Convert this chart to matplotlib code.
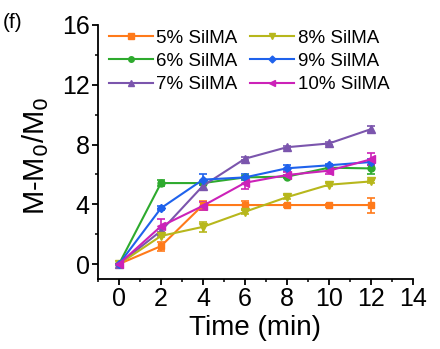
import numpy as np
import matplotlib.pyplot as plt
from matplotlib.lines import Line2D
from matplotlib.ticker import MultipleLocator

plt.rcParams['font.family'] = ['Liberation Sans', 'DejaVu Sans']

# Swelling ratio over time for each SilMA concentration
time = [0, 2, 4, 6, 8, 10, 12]
labels = ['5% SilMA', '6% SilMA', '7% SilMA', '8% SilMA', '9% SilMA', '10% SilMA']
s5 = [0, 1.2, 3.95, 3.95, 3.95, 3.95, 3.95]
s6 = [0, 5.42, 5.42, 5.8, 5.85, 6.45, 6.4]
s7 = [0, 2.22, 5.24, 7.05, 7.82, 8.07, 9.03]
s8 = [0, 1.88, 2.49, 3.5, 4.48, 5.31, 5.53]
s9 = [0, 3.74, 5.65, 5.8, 6.41, 6.61, 6.83]
s10 = [0, 2.53, 3.9, 5.44, 5.96, 6.25, 7.01]
e5 = [0, 0.3, 0.3, 0.3, 0.1, 0.1, 0.5]
e6 = [0, 0.2, 0.1, 0.1, 0.1, 0.2, 0.4]
e7 = [0, 0.1, 0.2, 0.1, 0.1, 0.1, 0.2]
e8 = [0, 0.1, 0.35, 0.15, 0.15, 0.1, 0.1]
e9 = [0, 0.15, 0.35, 0.2, 0.2, 0.1, 0.2]
e10 = [0, 0.5, 0.25, 0.4, 0.2, 0.2, 0.4]

series = [s5, s6, s7, s8, s9, s10]
errors = [e5, e6, e7, e8, e9, e10]
colors = ['#FF7A1A', '#2EAA2E', '#7B55AD', '#B7B71C', '#1F62EC', '#CC22B8']
markers = ['s', 'o', '^', 'v', 'D', '<']
msizes = [5, 5, 6, 6, 4.5, 6]

fig = plt.figure(figsize=(4.4, 3.49), dpi=100)
ax = fig.add_axes([0.2227, 0.2006, 0.7159, 0.7278])

handles = []
for y, e, c, m, ms, lab in zip(series, errors, colors, markers, msizes, labels):
    ax.errorbar(time, y, yerr=e, color=c, marker=m, markersize=ms, lw=1.5,
                elinewidth=1.2, capsize=3, capthick=1.2)
    handles.append(Line2D([], [], color=c, marker=m, markersize=ms - 1, lw=1.5, label=lab))

ax.set_xlim(-1, 14)
ax.set_ylim(-1, 16)
ax.xaxis.set_major_locator(MultipleLocator(2))
ax.xaxis.set_minor_locator(MultipleLocator(1))
ax.yaxis.set_major_locator(MultipleLocator(4))
ax.yaxis.set_minor_locator(MultipleLocator(2))
ax.spines['top'].set_visible(False)
ax.spines['right'].set_visible(False)
for sp in ax.spines.values():
    sp.set_linewidth(1.3)
ax.tick_params(which='major', direction='out', length=4, width=1.3, labelsize=18, pad=2)
ax.tick_params(which='minor', direction='out', length=2.5, width=1.1)

ax.set_xlabel('Time (min)', fontsize=20, labelpad=3)
fig.text(35.5 / 440, 1 - 156 / 349, 'M-M$_0$/M$_0$', fontsize=21, rotation=90,
         ha='center', va='center')
fig.text(3 / 440, 1 - 22 / 349, '(f)', fontsize=15, ha='left', va='center')

ax.legend(handles=handles, ncol=2, frameon=False, fontsize=13.5,
          loc='upper left', bbox_to_anchor=(0.01, 1.012),
          handlelength=2.35, handletextpad=0.2, columnspacing=0.65,
          labelspacing=0.33, borderaxespad=0)

fig.savefig('out.png', dpi=100)
